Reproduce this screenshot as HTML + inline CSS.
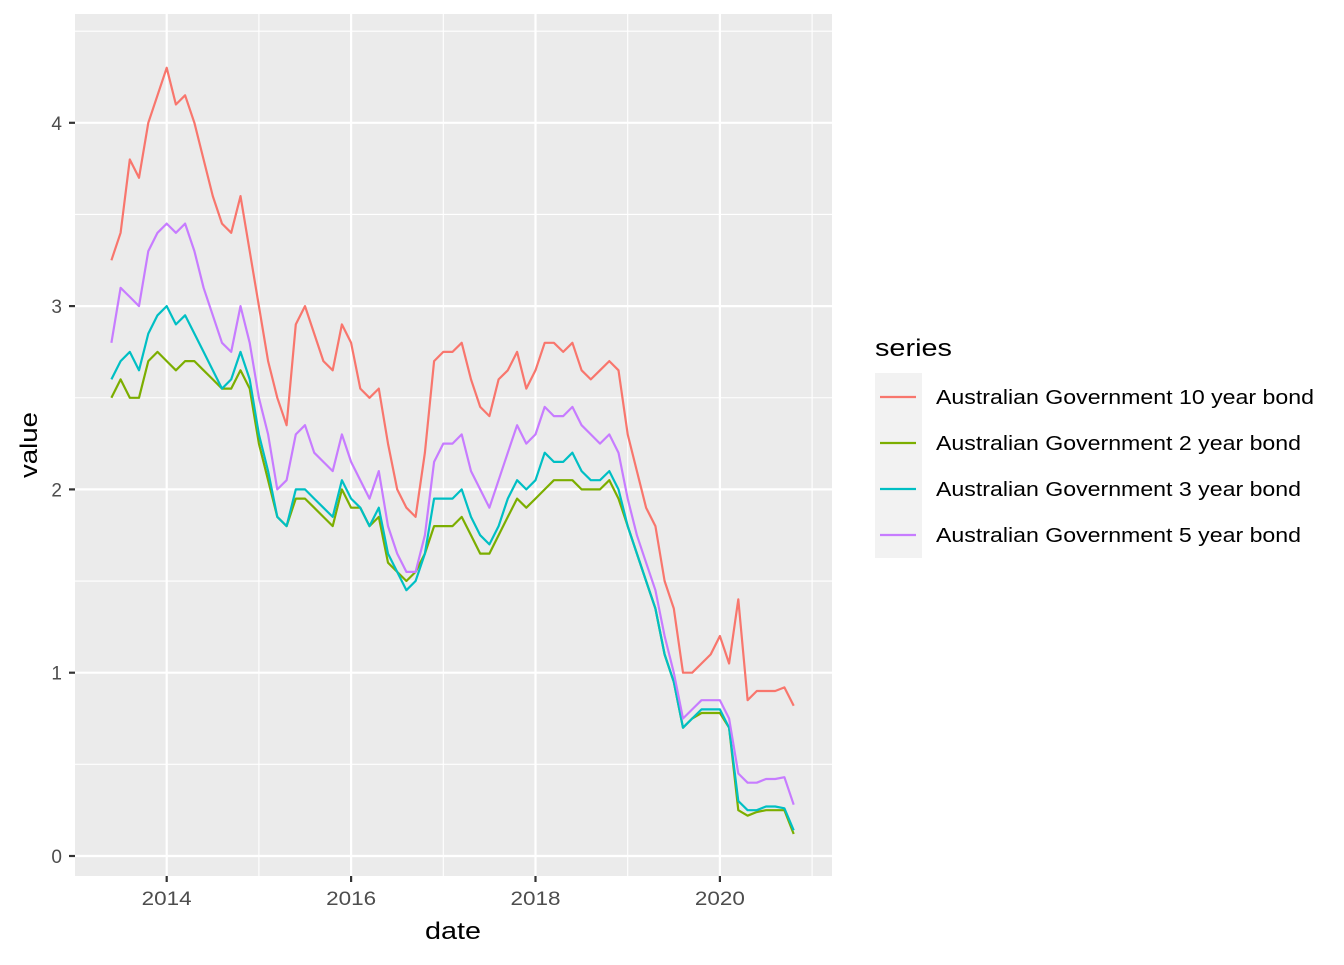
<!DOCTYPE html>
<html><head><meta charset="utf-8"><style>
body{margin:0;background:#fff;font-family:"Liberation Sans",sans-serif;}
svg text{font-family:"Liberation Sans",sans-serif;}
</style></head><body>
<svg id="chart" width="1344" height="960" xmlns="http://www.w3.org/2000/svg">
<rect x="75" y="14" width="757" height="862" fill="#EBEBEB"/>
<g id="grid"></g>
<g id="lines"></g>
<g id="axes"></g>
<text x="453" y="939" font-size="24" text-anchor="middle" fill="#000" textLength="56" lengthAdjust="spacingAndGlyphs">date</text>
<text transform="translate(37,445) rotate(-90)" font-size="24" text-anchor="middle" fill="#000" textLength="66" lengthAdjust="spacingAndGlyphs">value</text>
<g id="legend">
<text x="875" y="356" font-size="24" fill="#000" textLength="77" lengthAdjust="spacingAndGlyphs">series</text>
</g>
</svg>
<script>
const dates=[2013.4,2013.5,2013.6,2013.7,2013.8,2013.9,2014.0,2014.1,2014.2,2014.3,2014.4,2014.5,2014.6,2014.7,2014.8,2014.9,2015.0,2015.1,2015.2,2015.3,2015.4,2015.5,2015.6,2015.7,2015.8,2015.9,2016.0,2016.1,2016.2,2016.3,2016.4,2016.5,2016.6,2016.7,2016.8,2016.9,2017.0,2017.1,2017.2,2017.3,2017.4,2017.5,2017.6,2017.7,2017.8,2017.9,2018.0,2018.1,2018.2,2018.3,2018.4,2018.5,2018.6,2018.7,2018.8,2018.9,2019.0,2019.1,2019.2,2019.3,2019.4,2019.5,2019.6,2019.7,2019.8,2019.9,2020.0,2020.1,2020.2,2020.3,2020.4,2020.5,2020.6,2020.7,2020.8];
const y10=[3.25,3.4,3.8,3.7,4.0,4.15,4.3,4.1,4.15,4.0,3.8,3.6,3.45,3.4,3.6,3.3,3.0,2.7,2.5,2.35,2.9,3.0,2.85,2.7,2.65,2.9,2.8,2.55,2.5,2.55,2.25,2.0,1.9,1.85,2.2,2.7,2.75,2.75,2.8,2.6,2.45,2.4,2.6,2.65,2.75,2.55,2.65,2.8,2.8,2.75,2.8,2.65,2.6,2.65,2.7,2.65,2.3,2.1,1.9,1.8,1.5,1.35,1.0,1.0,1.05,1.1,1.2,1.05,1.4,0.85,0.9,0.9,0.9,0.92,0.82];
const y2=[2.5,2.6,2.5,2.5,2.7,2.75,2.7,2.65,2.7,2.7,2.65,2.6,2.55,2.55,2.65,2.55,2.25,2.05,1.85,1.8,1.95,1.95,1.9,1.85,1.8,2.0,1.9,1.9,1.8,1.85,1.6,1.55,1.5,1.55,1.65,1.8,1.8,1.8,1.85,1.75,1.65,1.65,1.75,1.85,1.95,1.9,1.95,2.0,2.05,2.05,2.05,2.0,2.0,2.0,2.05,1.95,1.8,1.65,1.5,1.35,1.1,0.95,0.7,0.75,0.78,0.78,0.78,0.7,0.25,0.22,0.24,0.25,0.25,0.25,0.12];
const y3=[2.6,2.7,2.75,2.65,2.85,2.95,3.0,2.9,2.95,2.85,2.75,2.65,2.55,2.6,2.75,2.6,2.3,2.1,1.85,1.8,2.0,2.0,1.95,1.9,1.85,2.05,1.95,1.9,1.8,1.9,1.65,1.55,1.45,1.5,1.65,1.95,1.95,1.95,2.0,1.85,1.75,1.7,1.8,1.95,2.05,2.0,2.05,2.2,2.15,2.15,2.2,2.1,2.05,2.05,2.1,2.0,1.8,1.65,1.5,1.35,1.1,0.95,0.7,0.75,0.8,0.8,0.8,0.7,0.3,0.25,0.25,0.27,0.27,0.26,0.14];
const y5=[2.8,3.1,3.05,3.0,3.3,3.4,3.45,3.4,3.45,3.3,3.1,2.95,2.8,2.75,3.0,2.8,2.5,2.3,2.0,2.05,2.3,2.35,2.2,2.15,2.1,2.3,2.15,2.05,1.95,2.1,1.8,1.65,1.55,1.55,1.75,2.15,2.25,2.25,2.3,2.1,2.0,1.9,2.05,2.2,2.35,2.25,2.3,2.45,2.4,2.4,2.45,2.35,2.3,2.25,2.3,2.2,1.95,1.75,1.6,1.45,1.2,1.0,0.75,0.8,0.85,0.85,0.85,0.75,0.45,0.4,0.4,0.42,0.42,0.43,0.28];
const seriesNames=["Australian Government 10 year bond","Australian Government 2 year bond","Australian Government 3 year bond","Australian Government 5 year bond"];
const legendWidths=[378,365,365,365];
const xTicks=[2014,2016,2018,2020];
const yTicks=[0,1,2,3,4];

const NS="http://www.w3.org/2000/svg";
const X=d=>166.7+(d-2014)*92.2;
const Y=v=>856-v*183.3;
function mk(tag,attrs,parent){const e=document.createElementNS(NS,tag);for(const k in attrs)e.setAttribute(k,attrs[k]);parent.appendChild(e);return e;}
const grid=document.getElementById('grid'),axes=document.getElementById('axes'),lines=document.getElementById('lines'),legend=document.getElementById('legend');
[2013,2015,2017,2019,2021].forEach(t=>{const x=X(t);if(x<75||x>832)return;const l=mk('line',{x1:x,x2:x,y1:14,y2:876,stroke:'#fff','stroke-width':1.1},grid);

});
[0.5,1.5,2.5,3.5,4.5].forEach(v=>{const l=mk('line',{x1:75,x2:832,y1:Y(v),y2:Y(v),stroke:'#fff','stroke-width':1.1},grid);

});
xTicks.forEach(t=>{const x=X(t);const l=mk('line',{x1:x,x2:x,y1:14,y2:876,stroke:'#fff','stroke-width':2.2},grid);


const tk=mk('line',{x1:x,x2:x,y1:876,y2:882,stroke:'#333','stroke-width':2.2},axes);


const tx=mk('text',{x:x,y:905,'font-size':19,'text-anchor':'middle',fill:'#4D4D4D',textLength:50,lengthAdjust:'spacingAndGlyphs'},axes);tx.textContent=t;

});
yTicks.forEach(v=>{const y=Y(v);const l=mk('line',{x1:75,x2:832,y1:y,y2:y,stroke:'#fff','stroke-width':2.2},grid);


const tk=mk('line',{x1:69,x2:75,y1:y,y2:y,stroke:'#333','stroke-width':2.2},axes);


const tx=mk('text',{x:62,y:y+7,'font-size':19,'text-anchor':'end',fill:'#4D4D4D'},axes);tx.textContent=v;

});
const all=[y10,y2,y3,y5];const cols=['#F8766D','#7CAE00','#00BFC4','#C77CFF'];
const lnames=['line-10-year','line-2-year','line-3-year','line-5-year'];
all.forEach((s,i)=>{const p=mk('polyline',{points:s.map((v,j)=>X(dates[j]).toFixed(1)+','+Y(v).toFixed(1)).join(' '),fill:'none',stroke:cols[i],'stroke-width':2.2,'stroke-linejoin':'round'},lines);

});
mk('rect',{x:875,y:373,width:47,height:185,fill:'#F2F2F2'},legend);
seriesNames.forEach((n,i)=>{const y=397+i*46;
const g=mk('g',{},legend);


mk('line',{x1:880,x2:916,y1:y,y2:y,stroke:cols[i],'stroke-width':2.2},g);
const t=mk('text',{x:936,y:y+7,'font-size':20,fill:'#000',textLength:legendWidths[i],lengthAdjust:'spacingAndGlyphs'},g);t.textContent=n;});
</script>
</body></html>
